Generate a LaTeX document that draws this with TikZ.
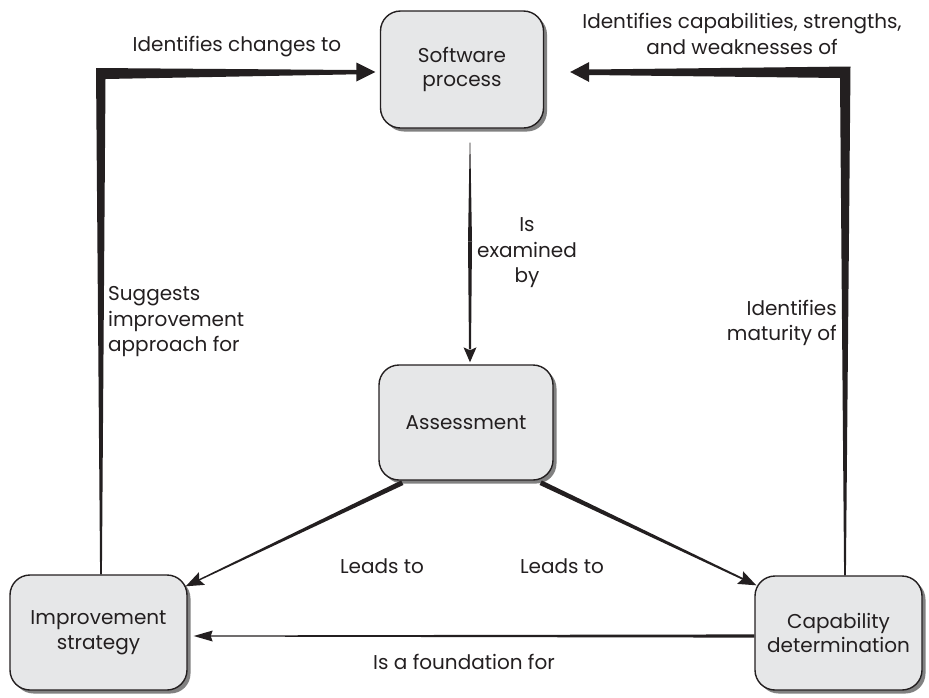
\documentclass[tikz,border=0pt]{standalone}
\usepackage{fontspec}
\setmainfont{Poppins}
\usetikzlibrary{calc,shadows}
\definecolor{boxgray}{HTML}{E6E7E8}
\definecolor{ink}{HTML}{231F20}
\tikzset{
  box/.style={draw=ink, line width=1.4pt, rounded corners=20pt, fill=boxgray,
    align=center, inner sep=0pt, text=ink,
    font=\fontsize{20}{24.5}\selectfont,
    drop shadow={shadow xshift=3.5pt, shadow yshift=-3.5pt, fill=black!55, opacity=0.9}},
  lbl/.style={font=\fontsize{20}{25.5}\selectfont, inner sep=0pt, text=ink},
}
\newcommand{\taper}[4]{\fill[ink] ($(#1)!#3!90:(#2)$) -- ($(#2)!#4!-90:(#1)$) -- ($(#2)!#4!90:(#1)$) -- ($(#1)!#3!-90:(#2)$) -- cycle;}
\newcommand{\ahd}[5]{%
  \path ($(#1)!#3!(#2)$) coordinate (ahB) ($(#1)!#4!(#2)$) coordinate (ahN);
  \fill[ink] (#1) -- ($(ahB)!#5!90:(#1)$) -- (ahN) -- ($(ahB)!#5!-90:(#1)$) -- cycle;}
\begin{document}
\begin{tikzpicture}[x=1pt, y=-1pt]
\useasboundingbox (0,0) rectangle (929,697);
% nodes
\node[box, minimum width=163pt, minimum height=117pt] (sp) at (462,69.5) {Software\\process};
\node[box, minimum width=174pt, minimum height=115pt] (as) at (466,422.5) {Assessment};
\node[box, minimum width=177pt, minimum height=115pt] (is) at (98.5,632.5) {Improvement\\strategy};
\node[box, minimum width=167pt, minimum height=114pt] (cd) at (838.5,633) {Capability\\determination};

% left path: improvement strategy -> software process
\coordinate (Lt) at ($(sp.west)+(-4.5,2.5)$);
\coordinate (Lb) at ($(is.north)+(2.5,0)$);
\coordinate (Lc) at (Lb |- Lt);
\fill[ink] ($(Lb)+(-0.9,0)$) -- ($(Lc)+(-5,-4)$) -- ($(Lt)+(-19,-2)$) -- ($(Lt)+(-19,-9.5)$) -- (Lt)
  -- ($(Lt)+(-19,9.5)$) -- ($(Lt)+(-19,2.3)$) -- ($(Lc)+(4.5,7)$) -- ($(Lb)+(0.9,0)$) -- cycle;

% right path: capability determination -> software process
\coordinate (Rt) at ($(sp.east)+(26,2.5)$);
\coordinate (Rb) at ($(cd.north)+(6.5,0)$);
\coordinate (Rc) at (Rb |- Rt);
\fill[ink] ($(Rb)+(0.9,0)$) -- ($(Rc)+(5.5,-5.5)$) -- ($(Rt)+(19,-2.5)$) -- ($(Rt)+(19,-10)$) -- (Rt)
  -- ($(Rt)+(19,10)$) -- ($(Rt)+(19,3)$) -- ($(Rc)+(-5,6)$) -- ($(Rb)+(-0.9,0)$) -- cycle;

% software process -> assessment
\coordinate (Vs) at ($(sp.south)+(8,14)$);
\coordinate (Vt) at ($(Vs |- as.north)+(0,-2)$);
\coordinate (Vm) at ($(Vs)!0.45!(Vt)$);
\coordinate (Vb) at ($(Vt)+(0,-13)$);
\taper{Vs}{Vm}{0.3pt}{2pt}
\taper{Vm}{Vb}{2pt}{1pt}
\ahd{Vt}{Vs}{15pt}{12pt}{6.5pt}

% assessment -> improvement strategy
\coordinate (Ds1) at ($(as.south west)+(24,2)$);
\coordinate (Dt1) at ($(is.north east)+(-2,12)$);
\coordinate (Db1) at ($(Dt1)!15pt!(Ds1)$);
\taper{Ds1}{Db1}{2.5pt}{0.7pt}
\ahd{Dt1}{Ds1}{18pt}{15pt}{7pt}

% assessment -> capability determination
\coordinate (Ds2) at ($(as.south east)+(-13,2)$);
\coordinate (Dt2) at ($(cd.north west)+(2,10)$);
\coordinate (Db2) at ($(Dt2)!15pt!(Ds2)$);
\taper{Ds2}{Db2}{2.5pt}{0.9pt}
\ahd{Dt2}{Ds2}{18pt}{15pt}{7pt}

% capability determination -> improvement strategy
\coordinate (Bs) at ($(cd.west)+(0,3)$);
\coordinate (Bx) at ($(is.east)+(6,0)$);
\coordinate (Bt) at (Bx |- Bs);
\coordinate (Bb) at ($(Bt)!16pt!(Bs)$);
\taper{Bs}{Bb}{1.6pt}{0.6pt}
\ahd{Bt}{Bs}{19pt}{17pt}{5.5pt}

% labels
\node[lbl] (t1) at (237,47) {Identifies changes to};
\node[lbl, align=center] (t2) at (742,34) {Identifies capabilities, strengths,\\and weaknesses of};
\node[lbl, align=center] (t3) at (527,253) {Is\\examined\\by};
\node[lbl, align=left, anchor=west] (t4) at (108,322) {Suggests\\improvement\\approach for};
\node[lbl, align=right, anchor=east] (t5) at (837,323) {Identifies\\maturity of};
\node[lbl] (t6) at (382,566) {Leads to};
\node[lbl] (t7) at (562,566) {Leads to};
\node[lbl] (t8) at (464,662) {Is a foundation for};
\end{tikzpicture}
\end{document}
